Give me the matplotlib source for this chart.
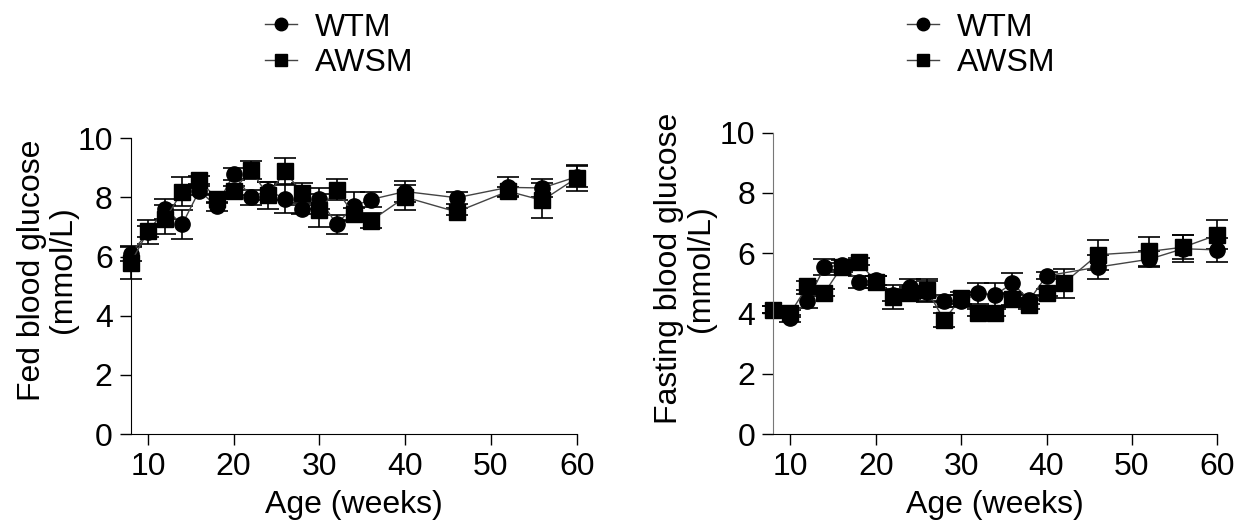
import numpy as np
import matplotlib
matplotlib.use("Agg")
import matplotlib.pyplot as plt
from matplotlib.lines import Line2D

plt.rcParams['font.family'] = ['Liberation Sans', 'DejaVu Sans']

# Fed blood glucose (left panel)
fed_age = [8, 10, 12, 14, 16, 18, 20, 22, 24, 26, 28, 30, 32, 34, 36, 40, 46, 52, 56, 60]
fed_wtm = [6.1, 6.82, 7.62, 7.09, 8.23, 7.7, 8.79, 8.01, 8.23, 7.96, 7.6, 7.96, 7.09, 7.7, 7.93, 8.2, 7.99, 8.34, 8.32, 8.7]
fed_wtm_err = [0.25, 0.4, 0.34, 0.5, 0.15, 0.15, 0.2, 0.25, 0.3, 0.5, 0.15, 0.36, 0.32, 0.5, 0.27, 0.37, 0.2, 0.34, 0.32, 0.35]
fed_awsm = [5.79, 6.85, 7.26, 8.2, 8.59, 7.96, 8.23, 8.93, 8.07, 8.88, 8.14, 7.57, 8.26, 7.43, 7.21, 8.01, 7.51, 8.21, 7.9, 8.66]
fed_awsm_err = [0.55, 0.2, 0.5, 0.48, 0.15, 0.15, 0.15, 0.3, 0.45, 0.46, 0.34, 0.56, 0.36, 0.2, 0.25, 0.42, 0.12, 0.15, 0.6, 0.45]

# Fasting blood glucose (right panel)
fast_age_wtm = [8, 10, 12, 14, 16, 18, 20, 22, 24, 26, 28, 30, 32, 34, 36, 38, 40, 46, 52, 56, 60]
fast_wtm = [4.12, 3.84, 4.42, 5.54, 5.61, 5.06, 5.1, 4.6, 4.89, 4.72, 4.43, 4.4, 4.67, 4.62, 5.0, 4.45, 5.25, 5.54, 5.8, 6.15, 6.11]
fast_wtm_err = [0.12, 0.12, 0.24, 0.26, 0.15, 0.2, 0.15, 0.2, 0.25, 0.35, 0.2, 0.2, 0.35, 0.4, 0.34, 0.15, 0.12, 0.4, 0.26, 0.45, 0.4]
fast_age_awsm = [8, 10, 12, 14, 16, 18, 20, 22, 24, 26, 28, 30, 32, 34, 36, 38, 40, 42, 46, 52, 56, 60]
fast_awsm = [4.12, 4.01, 4.92, 4.69, 5.54, 5.72, 5.06, 4.55, 4.67, 4.78, 3.79, 4.5, 4.03, 4.03, 4.48, 4.29, 4.69, 5.0, 5.95, 6.06, 6.2, 6.61]
fast_awsm_err = [0.12, 0.12, 0.15, 0.12, 0.15, 0.12, 0.2, 0.4, 0.2, 0.35, 0.23, 0.2, 0.12, 0.12, 0.2, 0.15, 0.12, 0.48, 0.5, 0.47, 0.4, 0.48]

FS = 23

fig = plt.figure(figsize=(12.37, 5.25), dpi=100)
ax1 = fig.add_axes([0.1057, 0.1733, 0.3605, 0.5633])
ax2 = fig.add_axes([0.6251, 0.1733, 0.3590, 0.5739])

style = dict(color='black', lw=1.0, markersize=11, capsize=8, elinewidth=1.2,
             capthick=1.2, markeredgecolor='black', markerfacecolor='black', clip_on=False)


def draw(ax, xw, yw, ew, xa, ya, ea, ylabel, lab_xy):
    for x, y, e, m in ((xw, yw, ew, 'o'), (xa, ya, ea, 's')):
        h = ax.errorbar(x, y, yerr=e, fmt='-' + m, **style)
        h[0].set_color('#444444')
        h[0].set_markerfacecolor('black')
        h[0].set_markeredgecolor('black')
    ax.set_xlim(8, 60)
    ax.set_ylim(0, 10)
    ax.set_xticks([10, 20, 30, 40, 50, 60])
    ax.set_yticks([0, 2, 4, 6, 8, 10])
    ax.spines['top'].set_visible(False)
    ax.spines['right'].set_visible(False)
    ax.tick_params(direction='out', length=8, width=1, labelsize=FS, pad=5)
    ax.set_xlabel('Age (weeks)', fontsize=FS, labelpad=6)
    ax.set_ylabel(ylabel, fontsize=FS, linespacing=1.05)
    ax.yaxis.set_label_coords(*lab_xy)


draw(ax1, fed_age, fed_wtm, fed_wtm_err, fed_age, fed_awsm, fed_awsm_err,
     'Fed blood glucose\n(mmol/L)', (-0.118, 0.555))
draw(ax2, fast_age_wtm, fast_wtm, fast_wtm_err, fast_age_awsm, fast_awsm, fast_awsm_err,
     'Fasting blood glucose\n(mmol/L)', (-0.13, 0.55))
ax2.spines['left'].set_color('#777777')

handles = [Line2D([], [], color='#444444', lw=1.0, marker='o', markersize=9,
                  markerfacecolor='black', markeredgecolor='black'),
           Line2D([], [], color='#444444', lw=1.0, marker='s', markersize=9,
                  markerfacecolor='black', markeredgecolor='black')]

for xpos in (265 / 1237, 907 / 1237):
    fig.legend(handles, ['WTM', 'AWSM'], loc='upper left', bbox_to_anchor=(xpos, 0.976),
               frameon=False, fontsize=FS, handlelength=1.0, handletextpad=0.55,
               labelspacing=0.16, borderpad=0, borderaxespad=0)

fig.savefig('out.png', dpi=100)
